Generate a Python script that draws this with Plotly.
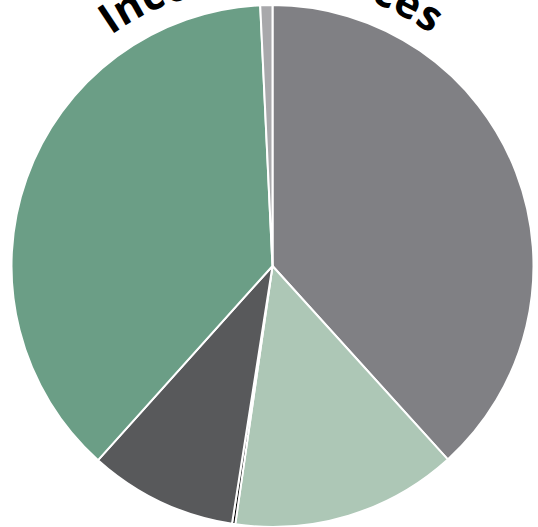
import math
import plotly.graph_objects as go

# ---- data ----
labels = ["Source A", "Source B", "Source C", "Source D", "Source E", "Source F"]
values = [38.28, 14.0, 0.2, 9.17, 37.6, 0.75]
colors = ["#808084", "#adc7b6", "#000000", "#58595b", "#6b9e86", "#a8a8ab"]
title_text = "Income Sources"

W, H = 538, 527

fig = go.Figure(go.Pie(
    labels=labels, values=values, sort=False, direction="clockwise", rotation=0,
    marker=dict(colors=colors, line=dict(color="white", width=2)),
    textinfo="none", hoverinfo="label+percent", showlegend=False,
    domain=dict(x=[11.5 / W, 533.5 / W], y=[0, 522 / H]),
))

# curved title: place each character along an arc above the pie
adv = {"I": 0.34, "n": 0.66, "c": 0.51, "o": 0.63, "m": 0.98, "e": 0.60, " ": 0.26,
       "S": 0.55, "u": 0.66, "r": 0.46, "s": 0.50}
F = 42
cx, cy, R = 272.5, 266.0, 298.0
start_deg, end_deg = -33.6, 32.3
cum = []
s = 0.0
for ch in title_text:
    w = adv.get(ch, 0.6)
    cum.append(s + w / 2)
    s += w
first, last = cum[0], cum[-1]
annotations = []
for ch, c in zip(title_text, cum):
    if ch == " ":
        continue
    ang = start_deg + (end_deg - start_deg) * (c - first) / (last - first)
    a = math.radians(ang)
    px = cx + R * math.sin(a)
    py = cy - R * math.cos(a)
    annotations.append(dict(
        text=ch, x=px / W, y=1 - py / H, xref="paper", yref="paper",
        xanchor="center", yanchor="middle", showarrow=False, textangle=ang,
        font=dict(family="Open Sans", size=F, color="black", weight="bold"),
    ))

fig.update_layout(
    width=W, height=H, margin=dict(l=0, r=0, t=0, b=0),
    paper_bgcolor="white", plot_bgcolor="white", annotations=annotations,
)
fig.write_html("out.html", config={"displayModeBar": False},
               post_script="document.body.style.margin='0';")
